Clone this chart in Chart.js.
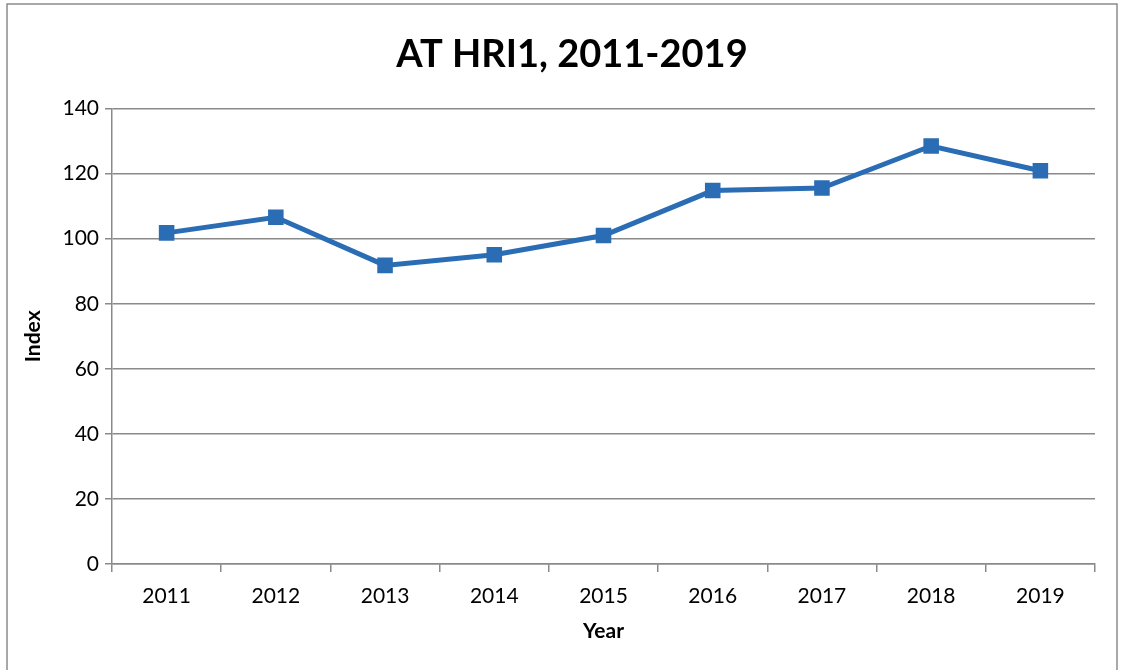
<!DOCTYPE html>
<html>
<head>
<meta charset="utf-8">
<script src="https://cdn.jsdelivr.net/npm/chart.js@4"></script>
<style>
    html, body { margin: 0; padding: 0; background: #ffffff; }
    #wrap { width: 1121px; height: 670px; position: relative; }
</style>
</head>
<body>
<div id="wrap"><canvas id="hriChart"></canvas></div>
<script>
// Chart data
const years = ['2011', '2012', '2013', '2014', '2015', '2016', '2017', '2018', '2019'];
const indexValues = [101.8, 106.6, 91.8, 95.1, 101.0, 114.8, 115.6, 128.5, 120.9];
const yTicks = [0, 20, 40, 60, 80, 100, 120, 140];

const FONT = 'Lato, "Open Sans", sans-serif';
const GRID = '#8a8a8a';
const BLUE = '#2a6db5';

// Outer frame around the chart
const framePlugin = {
    id: 'frame',
    beforeDraw(chart) {
        const ctx = chart.ctx;
        ctx.save();
        ctx.fillStyle = '#ffffff';
        ctx.fillRect(0, 0, chart.width, chart.height);
        ctx.strokeStyle = '#8c8c8c';
        ctx.lineWidth = 1.5;
        ctx.strokeRect(7, 4, 1110, 700);
        ctx.restore();
    }
};

new Chart(document.getElementById('hriChart'), {
    type: 'line',
    data: {
        labels: years,
        datasets: [{
            label: 'AT HRI1',
            data: indexValues,
            borderColor: BLUE,
            backgroundColor: BLUE,
            borderWidth: 5,
            pointStyle: 'rect',
            pointRadius: 11,
            pointHoverRadius: 11,
            pointBorderWidth: 0,
            tension: 0
        }]
    },
    options: {
        responsive: true,
        maintainAspectRatio: false,
        animation: false,
        // left padding shifts the centred title to match the reference
        layout: { padding: { left: 49, right: 26, top: 0, bottom: 0 } },
        plugins: {
            legend: { display: false },
            tooltip: { enabled: false },
            title: {
                display: true,
                text: 'AT HRI1, 2011-2019',
                color: '#000000',
                font: { family: FONT, size: 38, weight: 'bold', lineHeight: 1.2 },
                padding: { top: 32, bottom: 31 }
            }
        },
        scales: {
            x: {
                type: 'category',
                offset: true,
                border: { display: true, color: GRID, width: 1.5 },
                grid: {
                    offset: true,
                    drawOnChartArea: false,
                    drawTicks: true,
                    tickLength: 8,
                    color: GRID,
                    lineWidth: 1.5
                },
                ticks: {
                    color: '#000000',
                    font: { family: FONT, size: 21 },
                    padding: 12,
                    maxRotation: 0
                },
                title: {
                    display: true,
                    text: 'Year',
                    color: '#000000',
                    font: { family: FONT, size: 21, weight: 'bold', lineHeight: 1.2 },
                    padding: { top: 0, bottom: 26 }
                },
                afterFit(scale) { scale.height = 106; }
            },
            y: {
                min: 0,
                max: 140,
                afterBuildTicks(scale) { scale.ticks = yTicks.map(v => ({ value: v })); },
                border: { display: true, color: GRID, width: 1.5 },
                grid: {
                    color: GRID,
                    lineWidth: 1.5,
                    drawTicks: true,
                    tickLength: 7
                },
                ticks: {
                    color: '#000000',
                    font: { family: FONT, size: 21 },
                    padding: 6
                },
                title: {
                    display: true,
                    text: 'Index',
                    color: '#000000',
                    font: { family: FONT, size: 21, weight: 'bold', lineHeight: 1.2 },
                    padding: { top: -28, bottom: 0 }
                },
                afterFit(scale) { scale.width = 63; }
            }
        }
    },
    plugins: [framePlugin]
});
</script>
</body>
</html>
